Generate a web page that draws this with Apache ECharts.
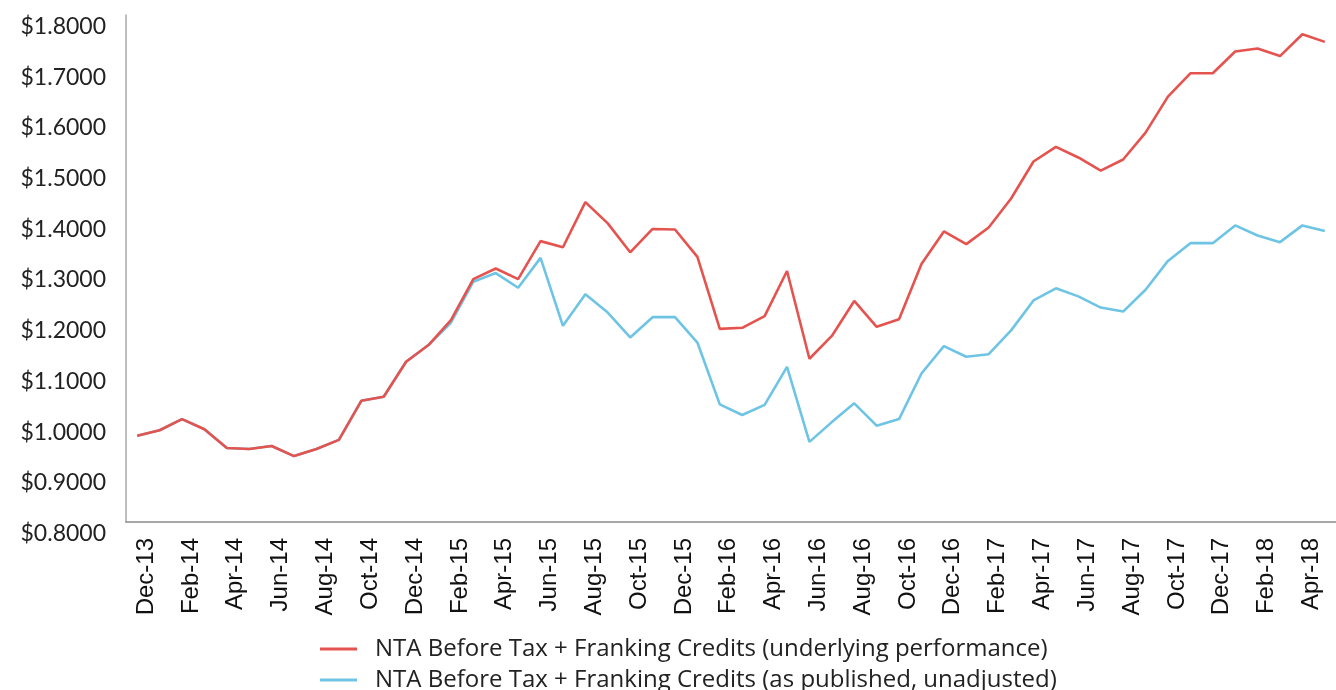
<!DOCTYPE html>
<html>
<head>
<meta charset="utf-8">
<script src="https://cdn.jsdelivr.net/npm/echarts@6/dist/echarts.min.js"></script>
<style>
body{margin:0;background:#fff}
#nta{width:1336px;height:690px}
</style>
</head>
<body>
<div id="nta"></div>
<script>
var months = ['Dec-13','Jan-14','Feb-14','Mar-14','Apr-14','May-14','Jun-14','Jul-14','Aug-14','Sep-14','Oct-14','Nov-14',
    'Dec-14','Jan-15','Feb-15','Mar-15','Apr-15','May-15','Jun-15','Jul-15','Aug-15','Sep-15','Oct-15','Nov-15',
    'Dec-15','Jan-16','Feb-16','Mar-16','Apr-16','May-16','Jun-16','Jul-16','Aug-16','Sep-16','Oct-16','Nov-16',
    'Dec-16','Jan-17','Feb-17','Mar-17','Apr-17','May-17','Jun-17','Jul-17','Aug-17','Sep-17','Oct-17','Nov-17',
    'Dec-17','Jan-18','Feb-18','Mar-18','Apr-18','May-18']
// underlying performance
var underlying = [0.970,0.981,1.003,0.983,0.946,0.944,0.950,0.930,0.944,0.962,1.039,1.047,
    1.116,1.149,1.198,1.279,1.300,1.279,1.354,1.342,1.431,1.389,1.332,1.378,
    1.377,1.323,1.181,1.183,1.206,1.295,1.122,1.167,1.236,1.185,1.200,1.309,
    1.373,1.348,1.381,1.438,1.511,1.540,1.519,1.493,1.515,1.568,1.639,1.685,
    1.685,1.728,1.734,1.719,1.762,1.747]
// as published, unadjusted
var published = [0.970,0.981,1.003,0.983,0.946,0.944,0.950,0.930,0.944,0.962,1.039,1.047,
    1.116,1.149,1.193,1.274,1.291,1.262,1.321,1.187,1.249,1.213,1.164,1.204,
    1.204,1.154,1.032,1.011,1.031,1.106,0.958,0.997,1.034,0.990,1.003,1.093,
    1.147,1.126,1.131,1.178,1.237,1.261,1.245,1.223,1.215,1.258,1.315,1.350,
    1.350,1.385,1.365,1.352,1.385,1.374]
var names = ['NTA Before Tax + Franking Credits (underlying performance)',
    'NTA Before Tax + Franking Credits (as published, unadjusted)']

function legendRow(name,top){
    return {
        data:[name],
        orient:'vertical',
        left:320,
        top:top,
        padding:0,
        icon:'rect',
        itemWidth:37,
        itemHeight:3,
        textStyle:{fontFamily:'Open Sans',fontSize:24,color:'#222',lineHeight:22,padding:[0,0,0,13]}
    }
}

var chart = echarts.init(document.getElementById('nta'))
chart.setOption({
    animation:false,
    grid:{left:126,right:-13,top:15,bottom:168},
    legend:[legendRow(names[0],637),legendRow(names[1],668)],
    xAxis:{
        type:'category',
        data:months,
        boundaryGap:true,
        axisLine:{lineStyle:{color:'#8a8a8a',width:1.5}},
        axisTick:{show:false},
        axisLabel:{
            interval:1,
            rotate:90,
            margin:16,
            verticalAlign:'top',
            lineHeight:18,
            fontFamily:'Liberation Sans',
            fontSize:24,
            color:'#111'
        }
    },
    yAxis:{
        type:'value',
        min:0.8,
        max:1.8,
        interval:0.1,
        splitLine:{show:false},
        axisLine:{show:true,lineStyle:{color:'#a8a8a8',width:1.5}},
        axisTick:{show:false},
        axisLabel:{
            margin:20,
            verticalAlign:'top',
            fontFamily:'Lato',
            fontSize:23,
            color:'#222',
            formatter:function(v){return '$' + v.toFixed(4)}
        }
    },
    series:[{
        name:names[0],
        type:'line',
        data:underlying,
        symbol:'none',
        color:'#e5534f',
        lineStyle:{width:2.6,color:'#e5534f'},
        z:3
    },{
        name:names[1],
        type:'line',
        data:published,
        symbol:'none',
        color:'#6ec4e4',
        lineStyle:{width:2.6,color:'#6ec4e4'},
        z:2
    }]
})
</script>
</body>
</html>
